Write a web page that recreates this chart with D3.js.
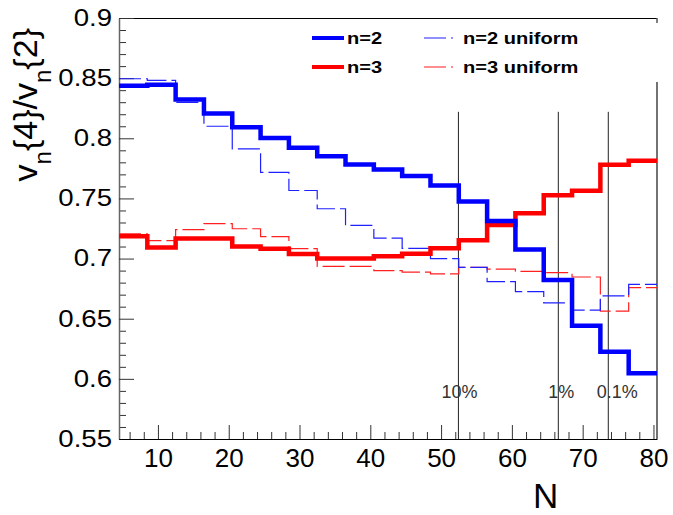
<!DOCTYPE html>
<html>
<head>
<meta charset="utf-8">
<script src="https://cdn.jsdelivr.net/npm/d3@7"></script>
<style>
  body { margin: 0; background: #fff; }
  text { font-family: "Liberation Sans", Arial, sans-serif; }
</style>
</head>
<body>
<div id="chart"></div>
<script>
// bin edges of the histograms (N_w)
const binEdges = [4.5, 8.5, 12.5, 16.5, 20.5, 24.5, 28.5, 32.5, 36.5, 40.5,
  44.5, 48.5, 52.5, 56.5, 60.5, 64.5, 68.5, 72.5, 76.5, 80.5];

// v_n{4}/v_n{2} per bin
const n2 = [0.8437, 0.8446, 0.8322, 0.8206, 0.8091, 0.8002, 0.7921, 0.7850, 0.7783, 0.7740,
  0.7687, 0.7607, 0.7475, 0.7312, 0.7075, 0.6822, 0.6442, 0.6225, 0.6046];
const n3 = [0.7186, 0.7092, 0.7166, 0.7166, 0.7100, 0.7081, 0.7037, 0.7001, 0.7000, 0.7020,
  0.7040, 0.7086, 0.7153, 0.7279, 0.7376, 0.7527, 0.7563, 0.7780, 0.7813];
const n2uniform = [0.8495, 0.8482, 0.8298, 0.8100, 0.7912, 0.7717, 0.7566, 0.7414, 0.7276, 0.7170,
  0.7084, 0.7000, 0.6927, 0.6808, 0.6726, 0.6632, 0.6572, 0.6690, 0.6786];
const n3uniform = [0.7205, 0.7150, 0.7241, 0.7291, 0.7248, 0.7183, 0.7083, 0.6935, 0.6935, 0.6900,
  0.6888, 0.6872, 0.6927, 0.6913, 0.6894, 0.6883, 0.6847, 0.6563, 0.6759];

// centrality cuts
const cutValues = [52.45, 66.56, 73.62];
const cutLabels = ["10%", "1%", "0.1%"];
const cutTop = 0.822;

const yTicks = [0.55, 0.6, 0.65, 0.7, 0.75, 0.8, 0.85, 0.9];
const xTicks = [10, 20, 30, 40, 50, 60, 70, 80];

const width = 673, height = 508;
const margin = {top: 18, right: 16, bottom: 69, left: 119};

const svg = d3.select("#chart")
  .append("svg")
  .attr("width", width)
  .attr("height", height);

const x = d3.scaleLinear()
  .domain([binEdges[0], binEdges[binEdges.length - 1]])
  .range([margin.left, width - margin.right]);

const y = d3.scaleLinear()
  .domain([0.55, 0.9])
  .range([height - margin.bottom, margin.top]);

const x0 = margin.left, x1 = width - margin.right;
const y0 = height - margin.bottom, y1 = margin.top;

// top frame line + small right stub
svg.append("line").attr("x1", x0).attr("x2", x1).attr("y1", y1 + 0.5).attr("y2", y1 + 0.5)
  .attr("stroke", "#000").attr("stroke-width", 1);
svg.append("line").attr("x1", x1).attr("x2", x1).attr("y1", y1).attr("y2", y1 + 5)
  .attr("stroke", "#555").attr("stroke-width", 1.5);

// minor ticks
const yMinor = d3.range(0.55, 0.9001, 0.01).filter(v => !yTicks.some(t => Math.abs(t - v) < 1e-6));
const xMinor = d3.range(6, 80.01, 2).filter(v => v % 10 !== 0);

svg.append("g")
  .attr("transform", `translate(${x0},0)`)
  .call(d3.axisLeft(y).tickValues(yMinor).tickFormat("").tickSizeInner(-7).tickSizeOuter(0))
  .call(g => g.select(".domain").remove())
  .selectAll("line").attr("stroke", "#333");

svg.append("g")
  .attr("transform", `translate(0,${y0})`)
  .call(d3.axisBottom(x).tickValues(xMinor).tickFormat("").tickSizeInner(-7).tickSizeOuter(0))
  .call(g => g.select(".domain").remove())
  .selectAll("line").attr("stroke", "#333");

// major ticks + labels
const yAxis = svg.append("g")
  .attr("transform", `translate(${x0},0)`)
  .call(d3.axisLeft(y).tickValues(yTicks).tickFormat(d3.format("")).tickSizeInner(-15).tickSizeOuter(0).tickPadding(7));
yAxis.select(".domain").attr("stroke", "#666").attr("stroke-width", 1.5);
yAxis.selectAll("line").attr("stroke", "#333");
yAxis.selectAll("text")
  .style("font-size", "23px")
  .attr("fill", "#000")
  .style("transform-box", "fill-box")
  .style("transform-origin", "100% 50%")
  .style("transform", "scaleX(1.2)");

const xAxis = svg.append("g")
  .attr("transform", `translate(0,${y0})`)
  .call(d3.axisBottom(x).tickValues(xTicks).tickSizeInner(-14).tickSizeOuter(0).tickPadding(10));
xAxis.select(".domain").attr("stroke", "#000").attr("stroke-width", 1.2);
xAxis.selectAll("line").attr("stroke", "#333");
xAxis.selectAll("text").style("font-size", "26px").attr("fill", "#000");

// cut lines
svg.selectAll(".cut")
  .data(cutValues)
  .enter()
  .append("line")
  .attr("x1", d => x(d)).attr("x2", d => x(d))
  .attr("y1", y(cutTop)).attr("y2", y0)
  .attr("stroke", "#222").attr("stroke-width", 1);

// right edge line
svg.append("line")
  .attr("x1", x1).attr("x2", x1)
  .attr("y1", y(0.8468)).attr("y2", y0)
  .attr("stroke", "#444").attr("stroke-width", 1.5);

const labelShift = [1, 3, 9];
svg.selectAll(".cutlabel")
  .data(cutLabels)
  .enter()
  .append("text")
  .attr("x", (d, i) => x(cutValues[i]) + labelShift[i])
  .attr("y", y(0.55) - 41)
  .attr("text-anchor", "middle")
  .style("font-size", "18px")
  .attr("fill", "#333")
  .text(d => d);

// histograms
function steps(values) {
  const pts = values.map((v, i) => [binEdges[i], v]);
  pts.push([binEdges[binEdges.length - 1], values[values.length - 1]]);
  return pts;
}
const line = d3.line()
  .x(d => x(d[0]))
  .y(d => y(d[1]))
  .curve(d3.curveStepAfter);

const series = [
  {values: n3uniform, color: "#ff2020", w: 1.2, dash: "22,5"},
  {values: n2uniform, color: "#2020ff", w: 1.2, dash: "22,5"},
  {values: n3, color: "#ff0000", w: 4.5, dash: null},
  {values: n2, color: "#0000ff", w: 4.5, dash: null}
];

series.forEach(s => {
  svg.append("path")
    .datum(steps(s.values))
    .attr("d", line)
    .attr("fill", "none")
    .attr("stroke", s.color)
    .attr("stroke-width", s.w)
    .attr("stroke-dasharray", s.dash);
});

// legend
const legendItems = [
  {label: "n=2", color: "#0000ff", w: 4, dash: null, lx: 312, ly: 38},
  {label: "n=3", color: "#ff0000", w: 4, dash: null, lx: 312, ly: 67},
  {label: "n=2 uniform", color: "#2020ff", w: 1.2, dash: "22,5", lx: 424, ly: 38},
  {label: "n=3 uniform", color: "#ff2020", w: 1.2, dash: "22,5", lx: 424, ly: 67}
];
legendItems.forEach(d => {
  const len = d.dash ? 29 : 32;
  svg.append("line")
    .attr("x1", d.lx).attr("x2", d.lx + len)
    .attr("y1", d.ly).attr("y2", d.ly)
    .attr("stroke", d.color).attr("stroke-width", d.w)
    .attr("stroke-dasharray", d.dash);
  svg.append("text")
    .attr("x", d.lx + (d.dash ? 39 : 35))
    .attr("y", d.ly + 6)
    .style("font-size", "17px")
    .style("font-weight", "bold")
    .style("transform-box", "fill-box")
    .style("transform-origin", "0% 50%")
    .style("transform", "scaleX(1.18)")
    .attr("fill", "#000")
    .text(d.label);
});

// axis titles
const ytitle = svg.append("text")
  .attr("transform", "rotate(-90)")
  .attr("x", -28)
  .attr("y", 37)
  .attr("text-anchor", "end")
  .style("font-size", "34px")
  .attr("fill", "#000");
ytitle.append("tspan").text("v");
ytitle.append("tspan").attr("baseline-shift", "sub").style("font-size", "24px").text("n");
ytitle.append("tspan").text("{4}/v");
ytitle.append("tspan").attr("baseline-shift", "sub").style("font-size", "24px").text("n");
ytitle.append("tspan").text("{2}");

const xtitle = svg.append("text")
  .attr("x", 533)
  .attr("y", 508)
  .style("font-size", "35px")
  .attr("fill", "#000");
xtitle.append("tspan").text("N");
xtitle.append("tspan").attr("baseline-shift", "sub").style("font-size", "25px").text("w");
</script>
</body>
</html>
